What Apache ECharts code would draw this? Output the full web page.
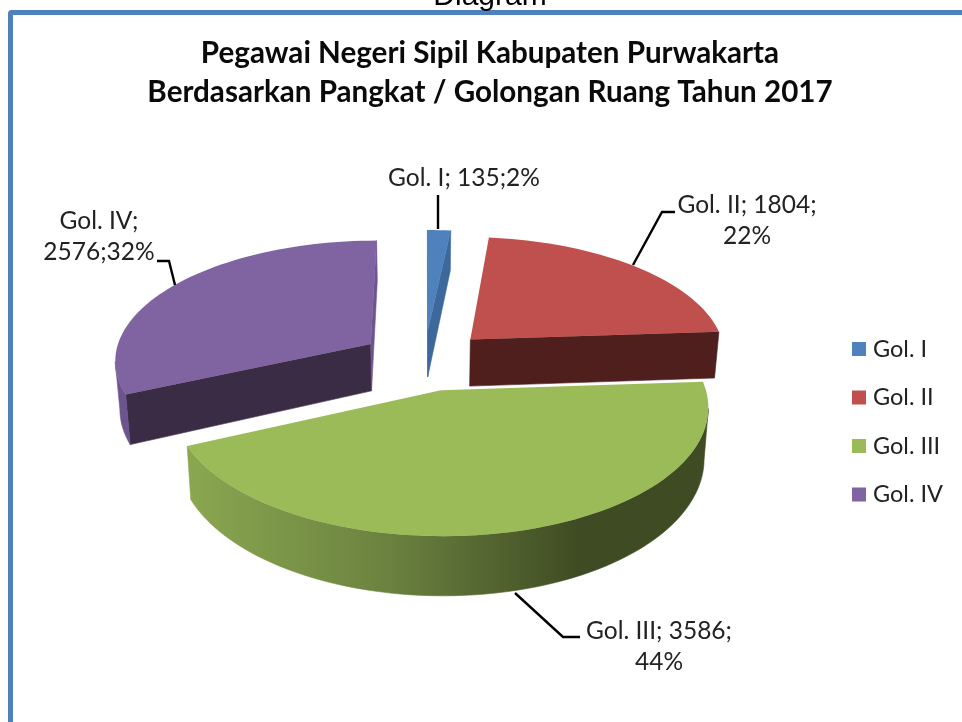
<!DOCTYPE html>
<html>
<head>
<meta charset="utf-8">
<style>html,body{margin:0;padding:0;background:#fff;overflow:hidden}#c{width:962px;height:722px}</style>
<script src="https://cdn.jsdelivr.net/npm/echarts@6/dist/echarts.min.js"></script>
</head>
<body>
<div id="c"></div>
<script>
const categories = ['Gol. I', 'Gol. II', 'Gol. III', 'Gol. IV'];
const values = [135, 1804, 3586, 2576];
const percents = [2, 22, 44, 32];
const topColors = ['#4F81BD', '#C0504D', '#9BBB59', '#8064A2'];
const cutColors = ['#3C689C', '#4F1F1E', '#404D24', '#3B2C46'];
const rimColors = ['#3C689C', '#4F1F1E', null, '#6C558F'];
const drawOrder = [1, 2, 4, 3];

const total = values.reduce((a, b) => a + b, 0);
const VC = 424.5, Y0 = 360, R = 257, EXPLODE = 65, TILT = 0.466, K = 0.00048, H = 48;

function project(X, Y, bottom) {
  const s = 1 / (1 + K * Y);
  let x = VC + X * s;
  let y = Y0 - TILT * Y * s;
  if (bottom) {
    x = VC + (x - VC) * 0.985;
    y += H * Math.pow(s, 1.3);
  }
  return [x, y];
}

function renderSlice(index) {
  return function (params, api) {
    const val = api.value(0);
    const before = values.slice(0, index).reduce((a, b) => a + b, 0);
    const a0 = before / total * Math.PI * 2;
    const a1 = a0 + val / total * Math.PI * 2;
    const mid = (a0 + a1) / 2;
    const ox = EXPLODE * Math.sin(mid), oy = EXPLODE * Math.cos(mid);
    const ground = [[ox, oy]];
    const steps = Math.max(4, Math.ceil((a1 - a0) / (Math.PI / 90)));
    for (let i = 0; i <= steps; i++) {
      const a = a0 + (a1 - a0) * i / steps;
      ground.push([ox + R * Math.sin(a), oy + R * Math.cos(a)]);
    }
    const n = ground.length;
    const topPts = ground.map(g => project(g[0], g[1], false));
    const rimFill = index === 2
      ? new echarts.graphic.LinearGradient(187, 0, 580, 0, [
          { offset: 0, color: '#8AA750' },
          { offset: 0.5, color: '#6C8340' },
          { offset: 1, color: '#3F4B23' }
        ], true)
      : rimColors[index];
    const children = [];
    // Walls: a run of boundary edges moving leftward on screen faces the viewer.
    let run = null;
    const flush = () => {
      if (!run) return;
      const upper = run.idx.map(k => topPts[k]);
      const lower = run.idx.slice().reverse().map(k => project(ground[k][0], ground[k][1], true));
      children.push({
        type: 'polygon', silent: true,
        shape: { points: upper.concat(lower) },
        style: { fill: run.fill, stroke: run.fill, lineWidth: 0.6 }
      });
      run = null;
    };
    for (let i = 0; i < n; i++) {
      const j = (i + 1) % n;
      if (topPts[j][0] < topPts[i][0]) {
        const isCut = i === 0;
        if (run && run.isCut !== isCut) flush();
        if (!run) run = { isCut: isCut, fill: isCut ? cutColors[index] : rimFill, idx: [i] };
        run.idx.push(j);
      } else {
        flush();
      }
    }
    flush();
    children.push({
      type: 'polygon',
      shape: { points: topPts },
      style: { fill: topColors[index] }
    });
    return { type: 'group', children: children };
  };
}

const labelTexts = [
  `${categories[0]}; ${values[0]};${percents[0]}%`,
  `${categories[1]}; ${values[1]};\n${percents[1]}%`,
  `${categories[2]}; ${values[2]};\n${percents[2]}%`,
  `${categories[3]};\n${values[3]};${percents[3]}%`
];
const labelFont = { fontFamily: 'Lato', fontSize: 24.5, fill: '#222', textAlign: 'center', textVerticalAlign: 'middle', lineHeight: 31 };
const leader = pts => ({
  type: 'polyline', z: 20, shape: { points: pts },
  style: { stroke: '#000', lineWidth: 2.4, fill: null }
});

const chart = echarts.init(document.getElementById('c'), null, { renderer: 'canvas' });
chart.setOption({
  animation: false,
  backgroundColor: '#fff',
  title: {
    text: 'Pegawai Negeri Sipil Kabupaten Purwakarta\nBerdasarkan Pangkat / Golongan Ruang Tahun 2017',
    left: 485, top: 29, textAlign: 'center',
    textStyle: { fontFamily: 'Lato', fontSize: 29.6, fontWeight: 'bold', color: '#0a0a0a', lineHeight: 39 }
  },
  legend: {
    orient: 'vertical', left: 847, top: 330.5,
    data: categories, icon: 'rect', itemWidth: 14, itemHeight: 14, itemGap: 21.5,
    textStyle: { fontFamily: 'Lato', fontSize: 23.5, color: '#222', lineHeight: 27, padding: [0, 0, 0, 2] }
  },
  graphic: [
    { type: 'rect', z: 0, shape: { x: 10.5, y: 12.5, width: 1000, height: 800, r: 1 },
      style: { fill: '#fff', stroke: '#4F81BD', lineWidth: 5 } },
    { type: 'text', z: 1, x: 490, y: -18,
      style: { text: 'Diagram', fontFamily: 'Liberation Sans', fontSize: 30, fill: '#000', textAlign: 'center' } },
    { type: 'text', z: 20, x: 464, y: 178, style: Object.assign({ text: labelTexts[0] }, labelFont) },
    { type: 'text', z: 20, x: 747, y: 221, style: Object.assign({ text: labelTexts[1] }, labelFont) },
    { type: 'text', z: 20, x: 659, y: 647, style: Object.assign({ text: labelTexts[2] }, labelFont) },
    { type: 'text', z: 20, x: 99, y: 237, style: Object.assign({ text: labelTexts[3] }, labelFont) },
    leader([[438, 195], [438, 229]]),
    leader([[633, 265], [662, 212], [675, 212]]),
    leader([[515, 593], [563, 637], [580, 637]]),
    leader([[157, 261], [169, 261], [175, 285]])
  ],
  series: categories.map((name, i) => ({
    type: 'custom', name: name, coordinateSystem: 'none',
    z: 2 + drawOrder[i],
    itemStyle: { color: topColors[i] },
    data: [values[i]],
    renderItem: renderSlice(i)
  }))
});
</script>
</body>
</html>
